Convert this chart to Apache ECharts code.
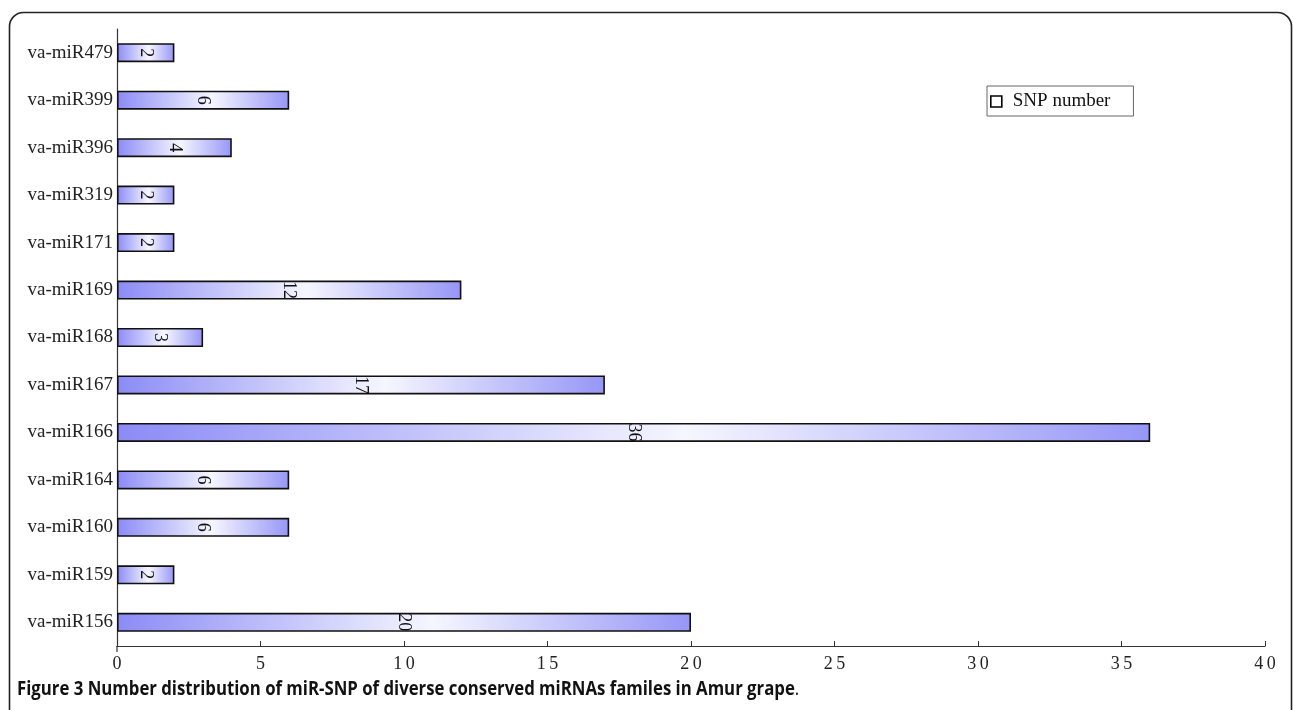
<!DOCTYPE html>
<html>
<head>
<meta charset="utf-8">
<script src="https://cdn.jsdelivr.net/npm/echarts@6/dist/echarts.min.js"></script>
<style>
html,body{margin:0;padding:0;background:#fff;}
#c{width:1293px;height:710px;}
</style>
</head>
<body>
<div id="c"></div>
<script>
// Categories listed bottom to top (as drawn on the category axis)
const categories = ['va-miR156','va-miR159','va-miR160','va-miR164','va-miR166','va-miR167','va-miR168','va-miR169','va-miR171','va-miR319','va-miR396','va-miR399','va-miR479'];
const snpNumber = [20, 2, 6, 6, 36, 17, 3, 12, 2, 2, 4, 6, 2];
const xTicks = [0, 5, 10, 15, 20, 25, 30, 35, 40];
const seriesName = 'SNP number';
const captionBold = 'Figure 3 Number distribution of miR-SNP of diverse conserved miRNAs familes in Amur grape';

const chart = echarts.init(document.getElementById('c'));
const serif = 'Liberation Serif';
chart.setOption({
  animation: false,
  backgroundColor: '#fff',
  grid: {left: 117, right: 28, top: 29, bottom: 64, containLabel: false},
  graphic: [
    {type: 'rect', shape: {x: 9.5, y: 12.5, width: 1282, height: 760, r: [14, 14, 0, 0]},
     style: {fill: 'none', stroke: '#222', lineWidth: 1.6}, z: -1},
    {type: 'line', shape: {x1: 117, y1: 646, x2: 117, y2: 652}, style: {stroke: '#333', lineWidth: 1.2}},
    {type: 'text', x: 17, y: 679, scaleX: 0.86,
     style: {text: '{b|' + captionBold + '}{n|.}', verticalAlign: 'top', rich: {
       b: {fontFamily: 'Open Sans', fontWeight: 'bold', fontSize: 19.5, fill: '#111'},
       n: {fontFamily: 'Open Sans', fontSize: 19.5, fill: '#111'}}}}
  ],
  legend: {
    data: [{name: seriesName, itemStyle: {color: '#fff', borderColor: '#000', borderWidth: 1.6}}],
    left: 987, top: 86,
    padding: [6, 23, 5, 3],
    backgroundColor: '#fff', borderColor: '#666', borderWidth: 1,
    itemWidth: 11, itemHeight: 11, itemGap: 6, icon: 'rect',
    textStyle: {fontFamily: serif, fontSize: 19, color: '#111', padding: [0, 0, 0, 6]}
  },
  xAxis: {
    type: 'value', min: 0, max: 40, interval: 5,
    axisLine: {show: true, lineStyle: {color: '#333', width: 1.2}},
    axisTick: {show: true, inside: true, length: 5, lineStyle: {color: '#333'}},
    splitLine: {show: false},
    axisLabel: {fontFamily: serif, fontSize: 18, color: '#222', margin: 9,
      formatter: v => xTicks.includes(v) ? String(v).split('').join('\u2009') : ''}
  },
  yAxis: {
    type: 'category', data: categories,
    axisLine: {show: true, lineStyle: {color: '#333', width: 1.2}},
    axisTick: {show: false},
    axisLabel: {fontFamily: serif, fontSize: 19, color: '#222', margin: 4}
  },
  series: [{
    name: seriesName, type: 'bar', data: snpNumber, barWidth: '40%',
    itemStyle: {
      borderColor: '#111', borderWidth: 1.6,
      color: {type: 'linear', x: 0, y: 0, x2: 1, y2: 0, colorStops: [
        {offset: 0, color: '#8b8bf6'},
        {offset: 0.55, color: '#f6f6ff'},
        {offset: 1, color: '#9696f7'}]}
    },
    label: {show: true, position: 'inside', rotate: -90, fontFamily: serif, fontSize: 18, color: '#111'}
  }]
});
</script>
</body>
</html>
